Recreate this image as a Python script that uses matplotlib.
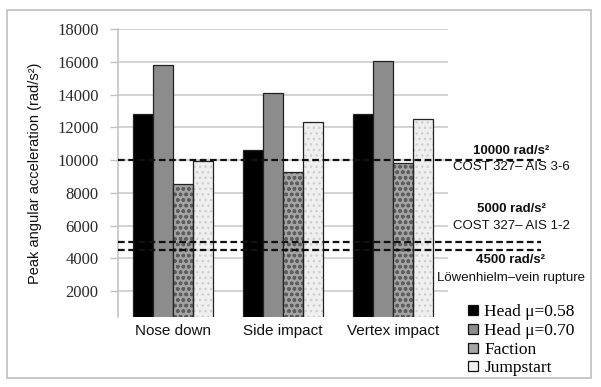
import matplotlib
matplotlib.use("Agg")
import matplotlib.pyplot as plt
from matplotlib.patches import Rectangle
from matplotlib.lines import Line2D
import numpy as np

categories = ["Nose down", "Side impact", "Vertex impact"]
series_names = ["Head \u03bc=0.58", "Head \u03bc=0.70", "Faction", "Jumpstart"]
head_058 = [12800, 10600, 12800]
head_070 = [15800, 14100, 16050]
faction = [8550, 9300, 9800]
jumpstart = [9950, 12300, 12500]
thresholds = [10000, 5000, 4500]
threshold_values_text = ["10000 rad/s\u00b2", "5000 rad/s\u00b2", "4500 rad/s\u00b2"]
threshold_desc = ["COST 327\u2013 AIS 3-6", "COST 327\u2013 AIS 1-2", "L\u00f6wenhielm\u2013vein rupture"]
yticks = [2000, 4000, 6000, 8000, 10000, 12000, 14000, 16000, 18000]

W, H = 601, 387
fig = plt.figure(figsize=(W / 100, H / 100), dpi=100)
fig.patch.set_facecolor("white")

ax_l, ax_r, ax_b, ax_t = 118, 448, 317, 29
ax = fig.add_axes([ax_l / W, 1 - ax_b / H, (ax_r - ax_l) / W, (ax_b - ax_t) / H])

x = np.arange(len(categories))
bw = 0.182
offsets = [-1.5 * bw, -0.5 * bw, 0.5 * bw, 1.5 * bw]
all_series = [head_058, head_070, faction, jumpstart]
faces = ["#000000", "#8c8c8c", "#a4a4a4", "#efefef"]
hatches = [None, None, "ooo", "..."]
hatch_cols = [None, None, "#5e5e5e", "#cfcfcf"]

for vals, off, fc, hc, hcol in zip(all_series, offsets, faces, hatches, hatch_cols):
    if hc:
        ax.bar(x + off, vals, bw, color=fc, hatch=hc, edgecolor=hcol, linewidth=0, zorder=3)
        ax.bar(x + off, vals, bw, fill=False, edgecolor="#222222", linewidth=0.9, zorder=4)
    else:
        ax.bar(x + off, vals, bw, color=fc, edgecolor="#222222", linewidth=0.9, zorder=3)

ax.set_xlim(-0.5, 2.5)
ax.set_ylim(430, 18000)
ax.set_yticks(yticks)
ax.set_yticklabels([str(v) for v in yticks], family="Liberation Serif", fontsize=12, color="#2a2a2a")
ax.set_xticks(x)
ax.set_xticklabels(categories, family="Liberation Sans", fontsize=11, color="#111111")
ax.tick_params(axis="x", length=0, pad=5)
ax.tick_params(axis="y", length=6, width=1, color="#c0c0c0", pad=8)
ax.grid(axis="y", color="#c8c8c8", linewidth=1.1, zorder=0)
ax.set_axisbelow(True)
for s in ["top", "right", "bottom"]:
    ax.spines[s].set_visible(False)
ax.spines["left"].set_color("#c0c0c0")
ax.spines["left"].set_linewidth(1.1)

ax.set_ylabel("Peak angular acceleration (rad/s\u00b2)", family="Liberation Sans", fontsize=10.5, color="#111111")
ax.yaxis.set_label_coords(-0.23, 0.5)

# threshold lines extending past the axes
x_end = (541 - ax_l) / 110 - 0.5
for t in thresholds:
    ax.plot([-0.5, x_end], [t, t], color="#111111", linestyle=(0, (3, 1.6)), linewidth=1.6,
            clip_on=False, zorder=6)

# threshold annotations
xc = (511 - ax_l) / 110 - 0.5
lab_y = [(10570, 9590), (7010, 5970), (3880, 2780)]
for (yb, yd), tv, td in zip(lab_y, threshold_values_text, threshold_desc):
    ax.text(xc, yb, tv, ha="center", va="center", fontsize=9.5, fontweight="bold",
            family="Liberation Sans", color="#111111", clip_on=False)
    ax.text(xc, yd, td, ha="center", va="center", fontsize=9.5,
            family="Liberation Sans", color="#111111", clip_on=False)

handles = [Line2D([], [], marker="s", linestyle="none", markersize=7.5,
                  markerfacecolor=fc, markeredgecolor="#111111", markeredgewidth=0.9)
           for fc in ["#000000", "#8c8c8c", "#a4a4a4", "#efefef"]]
leg = fig.legend(handles, series_names, loc="upper left", bbox_to_anchor=(468 / W, 1 - 304 / H),
                 frameon=False, prop={"family": "Liberation Serif", "size": 12.5},
                 handlelength=0.6, handletextpad=0.35, labelspacing=0.15, borderpad=0,
                 borderaxespad=0)

# white mask below the frame, then the outer frame
fig.add_artist(Rectangle((0, 0), 1, 1 - 378.5 / H, transform=fig.transFigure,
                         facecolor="white", edgecolor="none", zorder=20))
fig.add_artist(Rectangle((6.5 / W, 1 - 378 / H), (591 - 6.5) / W, (378 - 10) / H,
                         transform=fig.transFigure, fill=False, edgecolor="#c4c4c4",
                         linewidth=1.3, zorder=21))

fig.savefig("out.png", dpi=100, facecolor="white")
